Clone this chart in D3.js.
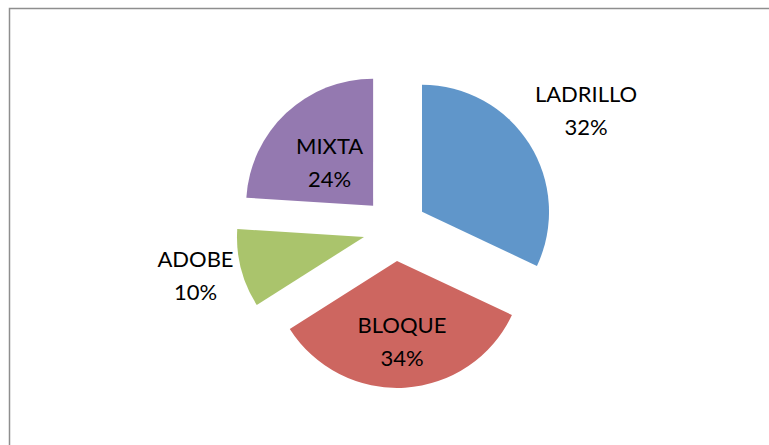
<!DOCTYPE html>
<html>
<head>
<meta charset="utf-8">
<script src="https://cdn.jsdelivr.net/npm/d3@7"></script>
<style>
  body { margin: 0; background: #fff; }
  text { font-family: Lato, "Open Sans", sans-serif; }
</style>
</head>
<body>
<div id="chart-area"></div>
<script>
// data
var categories = ["LADRILLO", "BLOQUE", "ADOBE", "MIXTA"];
var values = [32, 34, 10, 24];
var colors = ["#6096CA", "#CD6660", "#AAC46C", "#9479B0"];

var width = 769, height = 445;
var cx = 395, cy = 229, radius = 127;
var explode = 32;
// where each label sits, as a multiple of the radius from the slice tip
var labelFactor = [1.53, 0.62, 1.37, 0.50];
var labelNudge = [3, 2, -5, 3];

var svg = d3.select("#chart-area").append("svg")
    .attr("width", width)
    .attr("height", height);

// chart frame
svg.append("rect")
    .attr("x", 9.5)
    .attr("y", 8.5)
    .attr("width", 800)
    .attr("height", 500)
    .attr("fill", "none")
    .attr("stroke", "#8e8e8e")
    .attr("stroke-width", 1.5);

var pie = d3.pie()
    .sort(null)
    .value((d) => { return d.value; });

var data = categories.map((c, i) => { return {name: c, value: values[i], i: i}; });
var arcs = pie(data);

var arc = d3.arc().innerRadius(0).outerRadius(radius);
var shift = d3.arc().innerRadius(explode).outerRadius(explode);

var g = svg.append("g").attr("transform", "translate(" + cx + "," + cy + ")");

var slices = g.selectAll("g.slice")
    .data(arcs)
    .enter()
    .append("g")
        .attr("class", "slice")
        .attr("transform", (d) => { return "translate(" + shift.centroid(d) + ")"; });

slices.append("path")
    .attr("d", arc)
    .attr("fill", (d) => { return colors[d.data.i]; });

var total = d3.sum(values);

slices.each(function(d) {
    var f = labelFactor[d.data.i] * radius;
    var pos = d3.arc().innerRadius(f).outerRadius(f).centroid(d);
    var y0 = pos[1] + labelNudge[d.data.i];
    var t = d3.select(this).append("text")
        .attr("text-anchor", "middle")
        .attr("font-size", 22)
        .attr("fill", "#000");
    t.append("tspan")
        .attr("x", pos[0])
        .attr("y", y0 - 8.5)
        .text(d.data.name);
    t.append("tspan")
        .attr("x", pos[0])
        .attr("y", y0 + 24.5)
        .text(Math.round(d.data.value / total * 100) + "%");
});
</script>
</body>
</html>
